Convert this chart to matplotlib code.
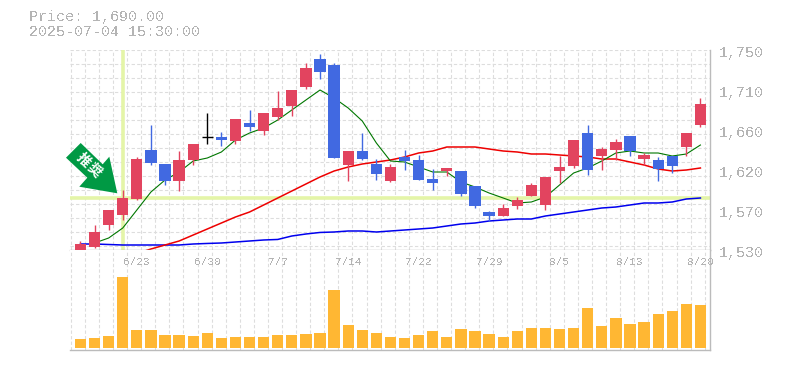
import numpy as np
import matplotlib
matplotlib.use('Agg')
import matplotlib.pyplot as plt
from matplotlib.patches import Polygon
from matplotlib.transforms import IdentityTransform

plt.rcParams['font.family'] = ['Liberation Mono', 'DejaVu Sans Mono']
plt.rcParams['text.antialiased'] = False

# daily prices
opens = [1530,1533.3,1557.5,1568.5,1586.1,1640,1624.6,1605.9,1629,1654,1654.3,1649.9,1669.7,1660.9,1676.3,
         1688.4,1709.3,1740.1,1733.5,1623.5,1638.9,1624.6,1605.9,1632.3,1629,1608.1,1616.9,1616.9,1600.4,1571.8,
         1567.4,1578.4,1589.4,1579.5,1616.9,1622.4,1658.7,1633.4,1640,1655.4,1630.1,1629,1633.4,1643.3,1667.5]
closes = [1536.6,1549.8,1574,1587.2,1630.1,1625.7,1605.9,1629,1646.6,1654,1651,1674.1,1665.3,1680.7,1686.2,
          1706,1730.2,1725.8,1631.2,1638.9,1630.1,1613.6,1621.3,1627.9,1607,1603.7,1620.2,1591.6,1578.4,1567.4,
          1576.2,1585,1601.5,1610.3,1621.3,1651,1618,1641.1,1648.8,1638.9,1634.5,1619.1,1622.4,1658.7,1690.6]
highs = [1539.9,1557.5,1574,1596,1632.3,1667.5,1624.6,1638.9,1646.6,1680.7,1659.8,1674.1,1684,1680.7,1704.9,
         1706,1735.7,1745.6,1735.7,1638.9,1658.7,1630.1,1624.6,1640,1634.5,1619.1,1620.2,1616.9,1600.4,1572.9,
         1580.6,1588.3,1603.7,1610.3,1633.4,1651,1667.5,1643.3,1652.1,1655.4,1636.7,1632.3,1633.4,1658.7,1697.2]
lows = [1529,1532.2,1552,1563,1585,1623.5,1601.5,1594.9,1623.5,1646.6,1644.4,1646.6,1660.9,1656.5,1673,
        1677.4,1707.1,1718.1,1631.2,1605.9,1629,1607,1604.8,1618,1607,1596,1611.4,1589.4,1576.2,1561.9,
        1567.4,1575.1,1589.4,1574,1603.7,1620.2,1612.5,1618,1629,1633.4,1623.5,1605.9,1614.7,1633.4,1665.3]
volumes = [90,100,120,710,180,180,130,130,120,150,100,110,110,110,130,130,140,150,580,230,180,150,110,100,130,
           170,110,190,170,140,110,170,200,200,190,200,400,220,300,240,260,340,370,440,430]

ma_short = [np.nan,1537.7,1543.2,1554.2,1574,1593.8,1607,1615.8,1627.9,1631.2,1637.8,1651,1658.7,1664.2,1673,
            1684,1695,1706,1697.2,1686.2,1671.9,1647.7,1627.9,1626.8,1621.3,1615.8,1615.8,1604.8,1599.3,1592.7,
            1587.2,1581.7,1582.8,1588.3,1601.5,1614.7,1620.2,1627.9,1636.7,1638.9,1636.7,1636.7,1633.4,1635.6,1645.5]
ma_mid = [np.nan,np.nan,np.nan,np.nan,1526.2,1531.1,1535.5,1539.9,1546.5,1553.1,1559.7,1566.3,1571.8,1579.5,1587.2,
          1594.9,1602.6,1610.3,1616.9,1621.3,1624.6,1626.8,1629,1632.3,1636.7,1638.9,1643.3,1643.3,1643.3,1641.1,
          1638.9,1637.8,1635.6,1635.6,1634.5,1633.4,1632.3,1630.1,1630.1,1626.8,1623.5,1619.1,1616.9,1618,1620.2]
ma_long = [1536.6,1536.6,1536.05,1535.5,1535.5,1535.5,1535.5,1535.5,1536.6,1537.2,1537.7,1538.8,1539.9,1541,1541.6,
           1545.4,1547.6,1549.3,1549.8,1550.9,1550.9,1549.8,1550.9,1552,1553.1,1554.2,1556.4,1558.6,1559.7,1561.9,
           1563,1564.1,1564.1,1567.4,1569.6,1571.8,1574,1576.2,1577.3,1579.5,1581.7,1581.7,1582.8,1586.1,1587.2]

date_pos = [4,9,14,19,24,29,34,39,44]
date_labels = ['6/23','6/30','7/7','7/14','7/22','7/29','8/5','8/13','8/20']
price_ticks = [1750,1706,1662,1618,1574,1530]
price_labels = ['1,750','1,710','1,660','1,620','1,570','1,530']
cross_idx = 3
cross_price = 1587.2

RED = '#e2445f'
BLUE = '#4169e1'
GREY = '#b4b4b4'
GRID = '#dddddd'
LIME = '#e4f5a8'

W, H = 785, 370
fig = plt.figure(figsize=(W/100, H/100), dpi=100)
ax = fig.add_axes([70/W, 1-250/H, 640/W, 200/H])
axv = fig.add_axes([70/W, 1-350/H, 640/W, 100/H])

x = np.arange(len(opens))
xlim = (-0.745, 44.68)
gridx = np.arange(0, 46) - 0.695

for a in (ax, axv):
    a.set_xlim(xlim)
    a.set_xticks(gridx)
    a.tick_params(length=0, labelbottom=False, labelleft=False)
    a.grid(axis='x', color=GRID, lw=0.8, ls=(0, (3, 2)))
    a.set_axisbelow(True)
    for s in ['top', 'left']:
        a.spines[s].set_visible(False)
    for s in ['right', 'bottom']:
        a.spines[s].set_color('#bbbbbb')
        a.spines[s].set_linewidth(1.0)

# price panel
ax.set_ylim(1530, 1750)
ax.set_yticks(1750 - 15.4*np.arange(0, 15))
ax.grid(axis='y', color=GRID, lw=0.8, ls=(0, (3, 2)))

ax.axhline(cross_price, color=LIME, lw=2.6, zorder=1)
ax.axvline(cross_idx, color=LIME, lw=2.6, zorder=1)

ax.plot(x, ma_long, color='#0000ee', lw=1.1, zorder=2, clip_on=False)
ax.plot(x, ma_mid, color='#ee0000', lw=1.1, zorder=2, clip_on=False)
ax.plot(x, ma_short, color='#007700', lw=0.8, zorder=2, clip_on=False)

for i in x:
    o, c = opens[i], closes[i]
    if c > o:
        col = RED
    elif c < o:
        col = BLUE
    else:
        col = 'black'
    ax.vlines(i, lows[i], highs[i], color=col, lw=1.0, zorder=3, clip_on=False)
    if c == o:
        ax.hlines(o, i-0.39, i+0.39, color=col, lw=1.0, zorder=3)
    else:
        ax.bar(i, abs(c-o), bottom=min(o, c), width=0.8, color=col, zorder=4, clip_on=False)

for p, lab in zip(price_ticks, price_labels):
    ax.annotate(lab, xy=(1, p), xycoords=('axes fraction', 'data'), xytext=(6.5, -2.2),
                textcoords='offset points', color=GREY, fontsize=10.8, va='center', ha='left',
                annotation_clip=False)

# volume panel
axv.set_ylim(-20, 980)
axv.set_yticks([])
axv.bar(x, volumes, width=0.8, color='#ffb733', zorder=3)
for p, lab in zip(date_pos, date_labels):
    axv.text(p, 0.88, lab, transform=axv.get_xaxis_transform(), color=GREY, fontsize=8,
             va='center', ha='center', clip_on=False, zorder=5)

fig.text(29/W, 1-17.5/H, 'Price: 1,690.00', color=GREY, fontsize=10.8, va='center', ha='left')
fig.text(29/W, 1-32.5/H, '2025-07-04 15:30:00', color=GREY, fontsize=10.8, va='center', ha='left')

# green marker arrow
arrow_px = [(66,157.7),(80.7,143),(102.7,164.3),(109.3,156.7),(117.3,193.3),(79.3,186.7),(87.3,177.7)]
fig.add_artist(Polygon([(px, H-py) for px, py in arrow_px], closed=True, facecolor='#009944',
                       edgecolor='none', transform=IdentityTransform(), zorder=10))
for (tx, ty), ch in zip([(83, 160), (94, 170.5)], ['推', '奨']):
    t = fig.text(tx/W, 1-ty/H, ch, color='white', fontsize=10, fontweight='bold', rotation=-45,
                 ha='center', va='center', family=['Noto Sans CJK JP', 'DejaVu Sans'], zorder=11)
    t.set_antialiased(True)

fig.savefig('out.png', dpi=100)
